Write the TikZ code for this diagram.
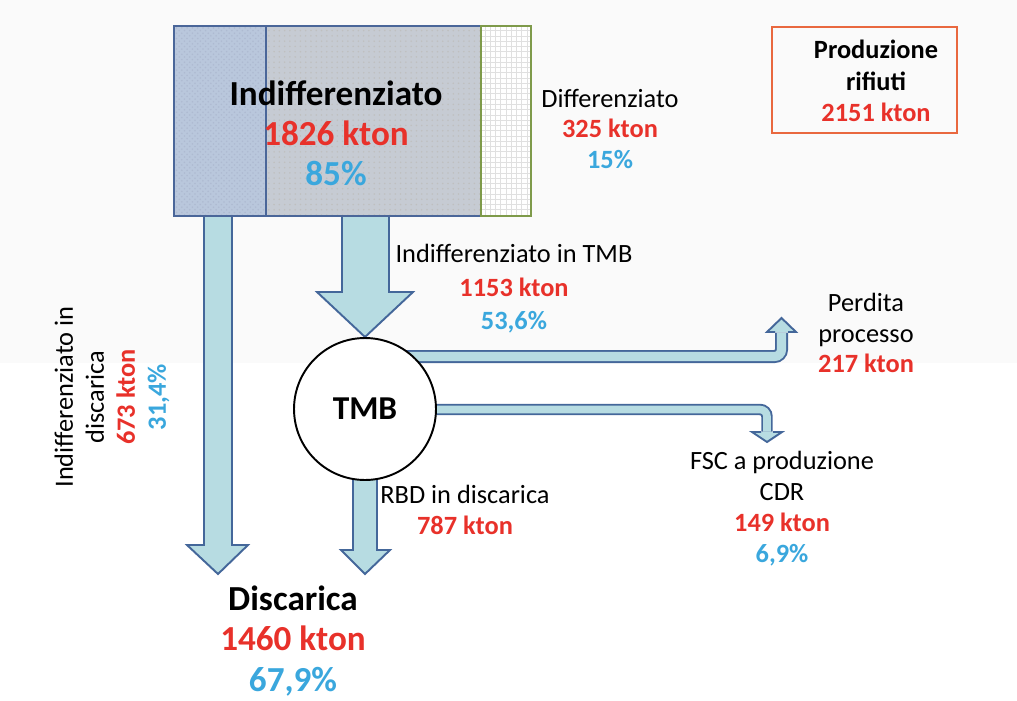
\documentclass[tikz,border=0pt]{standalone}
\usepackage{fontspec}
\setmainfont{Carlito}
\usetikzlibrary{positioning, patterns, calc}
\definecolor{cRed}{HTML}{E8312A}
\definecolor{cBlue}{HTML}{3AA7DD}
\definecolor{cFlowFill}{HTML}{B7DCE2}
\definecolor{cFlowLine}{HTML}{44679A}
\definecolor{cIndMain}{HTML}{C6CBD3}
\definecolor{cIndLeft}{HTML}{B9C7DC}
\definecolor{cBoxLine}{HTML}{4A6699}
\definecolor{cDiffLine}{HTML}{7E9A4A}
\definecolor{cProdLine}{HTML}{E9683F}
\definecolor{cBack}{HTML}{FAFAFA}
\newcommand{\ktonval}[1]{\textcolor{cRed}{\textbf{#1}}}
\newcommand{\percval}[1]{\textcolor{cBlue}{\textbf{#1}}}
\tikzset{
  flow/.style={
    draw=cFlowLine, fill=cFlowFill, line width=1.1pt, line join=miter
  },
  bentflow/.style={
    draw=cFlowLine, double=cFlowFill, line width=1.1pt,
    double distance=#1, rounded corners=4pt
  },
  flowhead/.style={fill=cFlowFill},
  headline/.style={draw=cFlowLine, line width=1.1pt, line join=miter},
  leftbox/.style={
    draw=cBoxLine, line width=1.1pt, preaction={fill=cIndLeft},
    pattern=crosshatch dots, pattern color=cBoxLine!45,
    minimum width=1.84cm, minimum height=3.8cm, anchor=north west
  },
  mainbox/.style={
    draw=cBoxLine, line width=1.1pt, preaction={fill=cIndMain},
    pattern=dots, pattern color=black!25,
    minimum width=4.3cm, minimum height=3.8cm, anchor=north west
  },
  diffbox/.style={
    draw=cDiffLine, line width=1.1pt, preaction={fill=white},
    pattern=grid, pattern color=black!12,
    minimum width=1.0cm, minimum height=3.8cm, anchor=north west
  },
  prodbox/.style={
    draw=cProdLine, line width=0.9pt,
    minimum width=3.7cm, minimum height=2.12cm
  },
  plantnode/.style={
    circle, draw=black, line width=1.1pt, fill=white,
    minimum size=2.84cm, inner sep=0pt,
    font=\fontsize{19}{22}\selectfont\bfseries
  },
  lbl/.style={
    font=\fontsize{15}{17.6}\selectfont, align=center, inner sep=0pt
  },
  biglbl/.style={
    font=\fontsize{20}{22.8}\selectfont\bfseries, align=center, inner sep=0pt
  },
}

\begin{document}
\begin{tikzpicture}[x=0.02cm, y=-0.02cm]
\useasboundingbox (0,0) rectangle (1017,700);

% ---- Background ----
\fill[cBack] (0,0) rectangle (1017,363);

% ---- Flows out of the waste box ----
% indifferenziato in discarica
\draw[flow] (204,215) -- (204,545) -- (187,545) -- (218,574) -- (248,545)
  -- (232,545) -- (232,215) -- cycle;
% indifferenziato in TMB
\draw[flow] (342,215) -- (342,292) -- (317,292) -- (365,337) -- (413,292)
  -- (389,292) -- (389,215) -- cycle;

% ---- Flows out of TMB ----
% RBD in discarica
\draw[flow] (353,470) -- (353,550) -- (341,550) -- (365,574) -- (390,550)
  -- (377,550) -- (377,470) -- cycle;
% perdita processo
\draw[bentflow=5.2pt] (400,356.5) -- (781.5,356.5) -- (781.5,332.5);
\fill[flowhead] (767,332) -- (781.5,318) -- (796,332) -- cycle;
\draw[headline] (775,332) -- (767,332) -- (781.5,318) -- (796,332)
  -- (788,332);
% FSC a produzione CDR
\draw[bentflow=4.3pt] (420,409.5) -- (767,409.5) -- (767,431.5);
\fill[flowhead] (752,432) -- (767,442) -- (782,432) -- cycle;
\draw[headline] (761,432) -- (752,432) -- (767,442) -- (782,432)
  -- (773,432);

% ---- Waste production box ----
\node[leftbox] (indleft) at (173,25) {};
\node[mainbox] (indmain) at (265,25) {};
\node[diffbox] (diff) at (480,25) {};

\node[biglbl] (indtxt) at (336,133)
  {Indifferenziato\\ \textcolor{cRed}{1826 kton}\\ \textcolor{cBlue}{85\%}};
\node[lbl] (difftxt) at (610,129)
  {Differenziato\\ \ktonval{325 kton}\\ \percval{15\%}};

% ---- Total ----
\node[prodbox] (prod) at (864.5,80) {};
\node[lbl, font=\fontsize{15}{17.9}\selectfont\bfseries] (prodtxt) at (876,81)
  {Produzione\\ rifiuti\\ \textcolor{cRed}{2151 kton}};

% ---- TMB plant ----
\node[plantnode] (tmb) at (365,409) {TMB};

% ---- Flow labels ----
\node[lbl, font=\fontsize{15}{19}\selectfont] (tmbin) at (514,289)
  {Indifferenziato in TMB\\ \ktonval{1153 kton}\\ \percval{53,6\%}};
\node[lbl, rotate=90] (indisc) at (112,397)
  {Indifferenziato in\\ discarica\\ \ktonval{673 kton}\\ \percval{31,4\%}};
\node[lbl] (perdita) at (866,333)
  {Perdita\\ processo\\ \ktonval{217 kton}};
\node[lbl] (fsc) at (782,509)
  {FSC a produzione\\ CDR\\ \ktonval{149 kton}\\ \percval{6,9\%}};
\node[lbl] (rbd) at (465,510)
  {RBD in discarica\\ \ktonval{787 kton}};

% ---- Landfill ----
\node[biglbl] (discarica) at (293,641)
  {Discarica\\ \textcolor{cRed}{1460 kton}\\ \textcolor{cBlue}{67,9\%}};

\end{tikzpicture}
\end{document}
